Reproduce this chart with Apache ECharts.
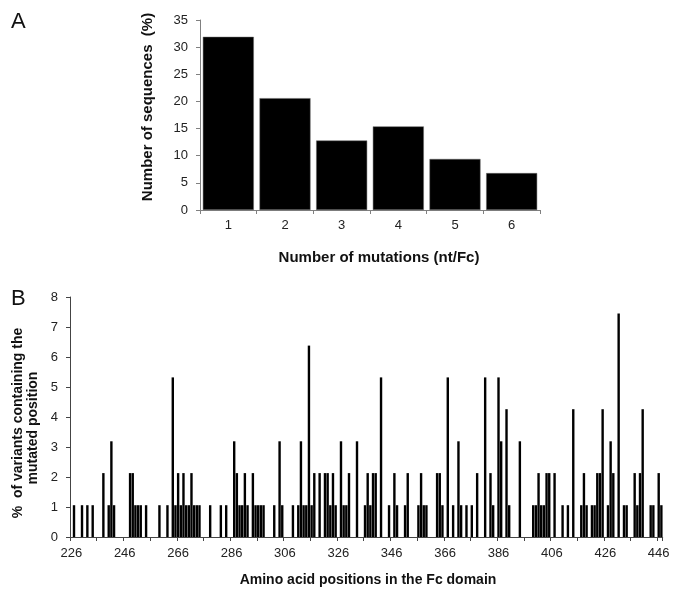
<!DOCTYPE html>
<html><head><meta charset="utf-8">
<script src="https://cdn.jsdelivr.net/npm/echarts@6/dist/echarts.min.js"></script>
<style>html,body{margin:0;padding:0;background:#fff}#c{width:680px;height:600px}</style>
</head><body><div id="c"></div>
<script>
// Panel A
const mutationCounts = ['1', '2', '3', '4', '5', '6'];
const sequencePercents = [31.9, 20.6, 12.8, 15.4, 9.4, 6.8];

// Panel B
const positionStart = 226;
const positionEnd = 447;
const mutatedPositions = [227, 230, 232, 234, 238, 240, 241, 242, 248, 249, 250, 251, 252, 254, 259, 262, 264, 265, 266, 267, 268, 269, 270, 271, 272, 273, 274, 278, 282, 284, 287, 288, 289, 290, 291, 292, 294, 295, 296, 297, 298, 302, 304, 305, 309, 311, 312, 313, 314, 315, 316, 317, 319, 321, 322, 323, 324, 325, 327, 328, 329, 330, 333, 336, 337, 338, 339, 340, 342, 345, 347, 348, 351, 352, 356, 357, 358, 359, 363, 364, 365, 367, 369, 371, 372, 374, 376, 378, 381, 383, 384, 386, 387, 389, 390, 394, 399, 400, 401, 402, 403, 404, 405, 407, 410, 412, 414, 417, 418, 419, 421, 422, 423, 424, 425, 427, 428, 429, 431, 433, 434, 437, 438, 439, 440, 443, 444, 446, 447];
const variantPercents = [1.06, 1.06, 1.06, 1.06, 2.13, 1.06, 3.19, 1.06, 2.13, 2.13, 1.06, 1.06, 1.06, 1.06, 1.06, 1.06, 5.32, 1.06, 2.13, 1.06, 2.13, 1.06, 1.06, 2.13, 1.06, 1.06, 1.06, 1.06, 1.06, 1.06, 3.19, 2.13, 1.06, 1.06, 2.13, 1.06, 2.13, 1.06, 1.06, 1.06, 1.06, 1.06, 3.19, 1.06, 1.06, 1.06, 3.19, 1.06, 1.06, 6.38, 1.06, 2.13, 2.13, 2.13, 2.13, 1.06, 2.13, 1.06, 3.19, 1.06, 1.06, 2.13, 3.19, 1.06, 2.13, 1.06, 2.13, 2.13, 5.32, 1.06, 2.13, 1.06, 1.06, 2.13, 1.06, 2.13, 1.06, 1.06, 2.13, 2.13, 1.06, 5.32, 1.06, 3.19, 1.06, 1.06, 1.06, 2.13, 5.32, 2.13, 1.06, 5.32, 3.19, 4.26, 1.06, 3.19, 1.06, 1.06, 2.13, 1.06, 1.06, 2.13, 2.13, 2.13, 1.06, 1.06, 4.26, 1.06, 2.13, 1.06, 1.06, 1.06, 2.13, 2.13, 4.26, 1.06, 3.19, 2.13, 7.45, 1.06, 1.06, 2.13, 1.06, 2.13, 4.26, 1.06, 1.06, 2.13, 1.06];

const positionCategories = [];
for (let p = positionStart; p <= positionEnd; p++) positionCategories.push(String(p));
const valueByPos = {};
mutatedPositions.forEach((p, i) => { valueByPos[p] = variantPercents[i]; });
const panelBData = positionCategories.map(c => (valueByPos[+c] !== undefined ? valueByPos[+c] : '-'));

const FONT = '"Liberation Sans", Arial, sans-serif';
const chart = echarts.init(document.getElementById('c'), null, { renderer: 'canvas' });

chart.setOption({
  animation: false,
  backgroundColor: '#fff',
  grid: [
    { left: 200, top: 20, width: 340, height: 190 },
    { left: 70, top: 297, width: 592.7, height: 240 }
  ],
  xAxis: [
    {
      gridIndex: 0, type: 'category', data: mutationCounts, boundaryGap: true,
      axisLine: { lineStyle: { color: '#808080', width: 1 } },
      axisTick: { show: true, length: 4, lineStyle: { color: '#808080' } },
      axisLabel: { color: '#222', fontSize: 13, fontFamily: FONT, margin: 9 },
      splitLine: { show: false }
    },
    {
      gridIndex: 1, type: 'category', data: positionCategories, boundaryGap: true,
      axisLine: { lineStyle: { color: '#444', width: 1 } },
      axisTick: { show: true, length: 4, interval: 9, lineStyle: { color: '#444' } },
      axisLabel: { color: '#222', fontSize: 13, fontFamily: FONT, margin: 10, interval: 19 },
      splitLine: { show: false }
    }
  ],
  yAxis: [
    {
      gridIndex: 0, type: 'value', min: 0, max: 35, interval: 5,
      axisLine: { show: true, lineStyle: { color: '#808080', width: 1 } },
      axisTick: { show: true, length: 4, lineStyle: { color: '#808080' } },
      axisLabel: { color: '#222', fontSize: 13, fontFamily: FONT, margin: 12 },
      splitLine: { show: false }
    },
    {
      gridIndex: 1, type: 'value', min: 0, max: 8, interval: 1,
      axisLine: { show: true, lineStyle: { color: '#444', width: 1 } },
      axisTick: { show: true, length: 4, lineStyle: { color: '#444' } },
      axisLabel: { color: '#222', fontSize: 13, fontFamily: FONT, margin: 12 },
      splitLine: { show: false }
    }
  ],
  series: [
    {
      type: 'bar', xAxisIndex: 0, yAxisIndex: 0, data: sequencePercents,
      barCategoryGap: '10%',
      itemStyle: { color: '#000', borderColor: '#666', borderWidth: 0.5 }
    },
    {
      type: 'bar', xAxisIndex: 1, yAxisIndex: 1, data: panelBData,
      barWidth: 2.4,
      itemStyle: { color: '#000' }
    }
  ],
  graphic: [
    { type: 'text', x: 11, y: 11, style: { text: 'A', font: '22px ' + FONT, fill: '#111' } },
    { type: 'text', x: 11, y: 288, style: { text: 'B', font: '22px ' + FONT, fill: '#111' } },
    { type: 'text', x: 148, y: 107, rotation: Math.PI / 2,
      style: { text: 'Number of sequences  (%)', font: 'bold 15px ' + FONT, fill: '#111', align: 'center', verticalAlign: 'middle', textAlign: 'center', textVerticalAlign: 'middle' } },
    { type: 'text', x: 379, y: 258,
      style: { text: 'Number of mutations (nt/Fc)', font: 'bold 15px ' + FONT, fill: '#111', align: 'center', verticalAlign: 'middle', textAlign: 'center', textVerticalAlign: 'middle' } },
    { type: 'text', x: 18, y: 423, rotation: Math.PI / 2,
      style: { text: '%  of variants containing the', font: 'bold 14px ' + FONT, fill: '#111', align: 'center', verticalAlign: 'middle', textAlign: 'center', textVerticalAlign: 'middle' } },
    { type: 'text', x: 33, y: 428, rotation: Math.PI / 2,
      style: { text: 'mutated position', font: 'bold 14px ' + FONT, fill: '#111', align: 'center', verticalAlign: 'middle', textAlign: 'center', textVerticalAlign: 'middle' } },
    { type: 'text', x: 368, y: 580,
      style: { text: 'Amino acid positions in the Fc domain', font: 'bold 14px ' + FONT, fill: '#111', align: 'center', verticalAlign: 'middle', textAlign: 'center', textVerticalAlign: 'middle' } }
  ]
});
</script>
</body></html>
